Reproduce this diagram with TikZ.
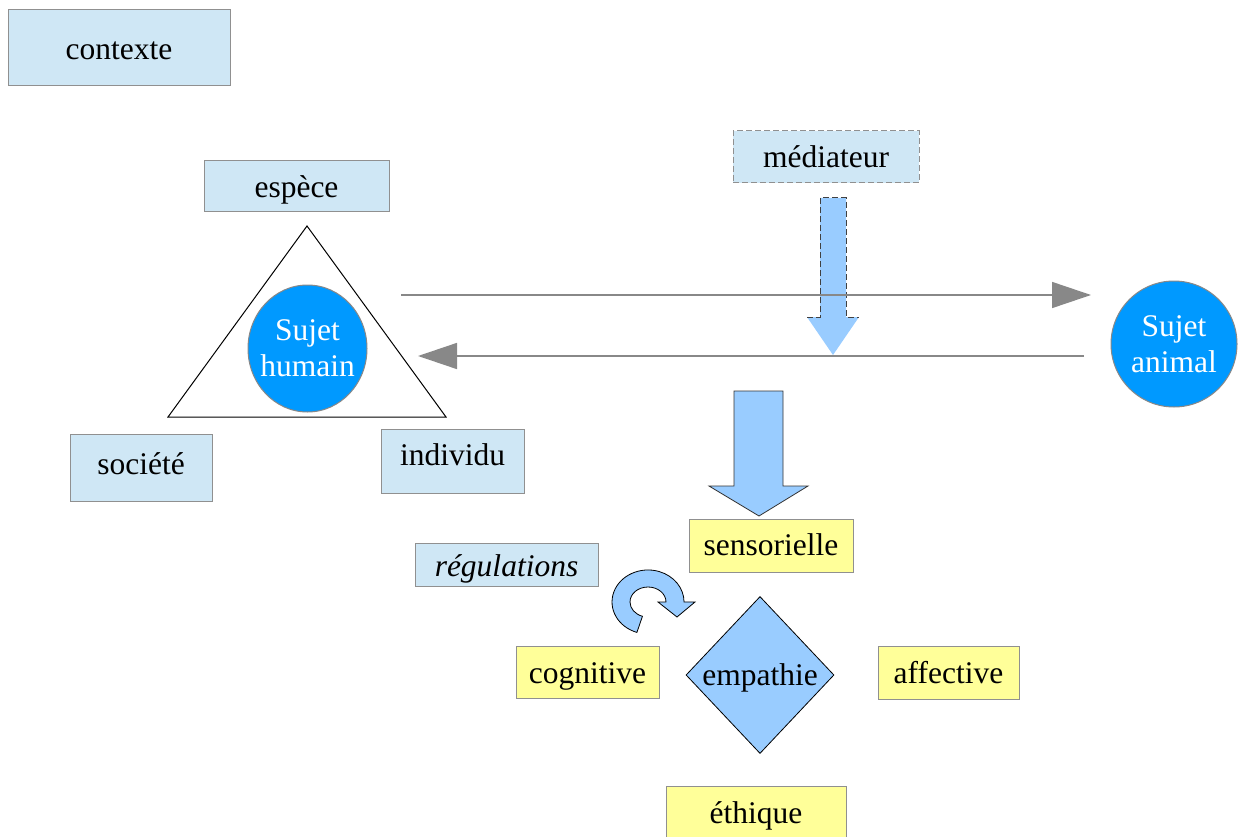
\documentclass[tikz,border=0pt]{standalone}
\usepackage{fontspec}
\setmainfont{Liberation Serif}
\usetikzlibrary{arrows.meta,shapes.geometric}
\definecolor{boxblue}{HTML}{CFE7F5}
\definecolor{boxborder}{HTML}{909090}
\definecolor{yellowfill}{HTML}{FFFF99}
\definecolor{circblue}{HTML}{0099FF}
\definecolor{arrowblue}{HTML}{99CCFF}
\definecolor{linegray}{HTML}{888888}
\begin{document}
\begin{tikzpicture}[x=1pt,y=-1pt,
  font=\fontsize{31.5}{36}\selectfont,
  bx/.style={draw=boxborder, fill=boxblue, line width=1pt, inner sep=0pt, text height=26pt, text depth=4pt},
  yb/.style={bx, fill=yellowfill},
  dashbox/.style={bx, dash pattern=on 6pt off 3pt},
  conn/.style={draw=linegray, line width=1.5pt, -{Triangle[length=39pt,width=26pt,fill=linegray]}},
  subj/.style={ellipse, draw=linegray, line width=1pt, fill=circblue, text=white, align=center, inner sep=0pt},
  arrowshape/.style={fill=arrowblue, draw=black!80, line width=0.8pt},
  dashedge/.style={draw=black!75, line width=1pt, dash pattern=on 6pt off 3pt}]
\fill[white] (0,0) rectangle (1239,837);
\useasboundingbox (0,0) rectangle (1239,837);

% top-left context
\node[bx, minimum width=222pt, minimum height=76pt, text height=27pt, text depth=3pt] (contexte) at (119,48) {contexte};

% human side
\node[bx, minimum width=185pt, minimum height=51pt] (espece) at (296.5,186.5) {espèce};
\draw[line width=1pt] (307,226) -- (446,417) -- (168,417) -- cycle;
\node[subj, minimum width=119pt, minimum height=127pt] (humain) at (307.5,348.5) {\makebox[0pt]{Sujet}\\\makebox[0pt]{humain}};
\node[bx, minimum width=142pt, minimum height=67pt, text height=21.5pt, text depth=8.5pt] (societe) at (141,467.5) {société};
\node[bx, minimum width=143pt, minimum height=64pt, text height=19pt, text depth=11pt] (individu) at (452.5,461) {individu};

% mediator
\node[dashbox, minimum width=186pt, minimum height=52pt] (mediateur) at (826,157) {médiateur};
\fill[arrowblue] (820,198) -- (846,198) -- (846,317) -- (859,317) -- (833,355) -- (807,317) -- (820,317) -- cycle;
\draw[dashedge] (807,317) -- (820,317) -- (820,198) -- (846,198) -- (846,317) -- (859,317);

% animal
\node[subj, minimum width=126pt, minimum height=126pt] (animal) at (1174,344) {\makebox[0pt]{Sujet}\\\makebox[0pt]{animal}};

% exchange lines
\coordinate (h1) at (401,295);
\coordinate (a1) at (1091,295);
\coordinate (a2) at (1084,356);
\coordinate (h2) at (418,356);
\draw[conn] (h1) -- (a1);
\draw[conn] (a2) -- (h2);

% big down arrow
\filldraw[arrowshape] (734,391) -- (783,391) -- (783,486) -- (808,486) -- (759,516) -- (709,486) -- (734,486) -- cycle;

% empathy part
\node[yb, minimum width=164pt, minimum height=53pt, text height=24.5pt, text depth=5.5pt] (sensorielle) at (771,545.5) {sensorielle};
\node[bx, minimum width=183pt, minimum height=43pt, text height=27pt, text depth=3pt] (regulations) at (506.5,564.5) {\itshape régulations};
\filldraw[arrowshape, draw=black] (636.9,632.4) arc[start angle=108, end angle=360, x radius=36, y radius=32]
  -- (695,602) -- (677,617) -- (658,602) -- (666,602)
  arc[start angle=360, end angle=108, x radius=18, y radius=15] -- cycle;
\node[diamond, draw=black, fill=arrowblue, line width=0.8pt, minimum width=148pt, minimum height=157pt, inner sep=0pt, text height=25pt, text depth=5pt] (empathie) at (760,675) {\makebox[0pt]{empathie}};
\node[yb, minimum width=143pt, minimum height=52pt] (cognitive) at (587.5,672) {cognitive};
\node[yb, minimum width=141pt, minimum height=53pt, text height=25.5pt, text depth=4.5pt] (affective) at (948.5,672.5) {affective};
\node[yb, minimum width=180pt, minimum height=52pt] (ethique) at (756,812) {éthique};
\end{tikzpicture}
\end{document}
